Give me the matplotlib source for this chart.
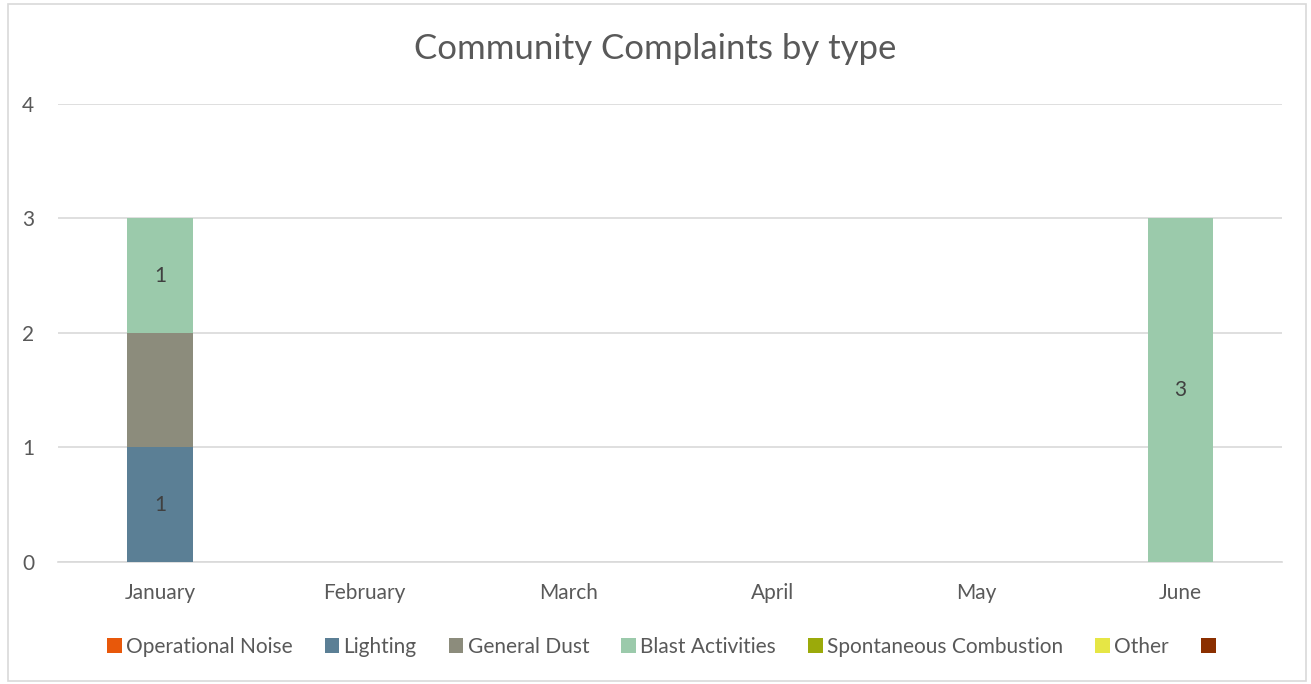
import matplotlib.pyplot as plt
import numpy as np
from matplotlib.patches import Patch, Rectangle

plt.rcParams['font.family'] = ['Lato', 'DejaVu Sans']

months = ['January', 'February', 'March', 'April', 'May', 'June']
series = ['Operational Noise', 'Lighting', 'General Dust', 'Blast Activities',
          'Spontaneous Combustion', 'Other', '']
operational_noise = [0, 0, 0, 0, 0, 0]
lighting = [1, 0, 0, 0, 0, 0]
general_dust = [1, 0, 0, 0, 0, 0]
blast = [1, 0, 0, 0, 0, 3]
spontaneous = [0, 0, 0, 0, 0, 0]
other = [0, 0, 0, 0, 0, 0]
unnamed = [0, 0, 0, 0, 0, 0]
values = [operational_noise, lighting, general_dust, blast, spontaneous, other, unnamed]
colors = ['#E8580A', '#5B7F95', '#8C8C7C', '#9BCAAB', '#9BAA0A', '#E6E645', '#8B2F00']
# which series show data labels in the original
labelled = ['Lighting', 'Blast Activities']

fig = plt.figure(figsize=(13.11, 6.84), dpi=100)
fig.patches.append(Rectangle((0.006, 0.004), 0.99, 0.99, transform=fig.transFigure,
                             fill=False, edgecolor='#D9D9D9', linewidth=1.2))
ax = fig.add_axes([0.0442, 0.1784, 0.934, 0.6696])

x = np.arange(len(months))
bottom = np.zeros(len(months))
for name, vals, c in zip(series, values, colors):
    vals = np.array(vals, dtype=float)
    bars = ax.bar(x, vals, 0.32, bottom=bottom, color=c, zorder=3)
    if name in labelled:
        for b, v in zip(bars, vals):
            if v > 0:
                ax.text(b.get_x() + b.get_width() / 2, b.get_y() + v / 2, f'{int(v)}',
                        ha='center', va='center', fontsize=15, color='#404040', zorder=4)
    bottom += vals

ax.set_xlim(-0.5, 5.5)
ax.set_ylim(0, 4)
ax.set_yticks(range(5))
ax.set_xticks(x)
ax.set_xticklabels(months)
ax.yaxis.grid(True, color='#D9D9D9', linewidth=1.2, zorder=0)
for s in ['top', 'right', 'left']:
    ax.spines[s].set_visible(False)
ax.spines['bottom'].set_color('#D9D9D9')
ax.spines['bottom'].set_linewidth(1.2)
ax.tick_params(length=0, labelsize=15, labelcolor='#595959')
ax.tick_params(axis='y', pad=17)
ax.tick_params(axis='x', pad=15)

fig.text(0.5, 0.928, 'Community Complaints by type', ha='center', va='center',
         fontsize=25, color='#595959')

handles = [Patch(facecolor=c, label=n) for n, c in zip(series, colors)]
fig.legend(handles=handles, loc='center', bbox_to_anchor=(0.506, 0.054), ncol=7,
           frameon=False, fontsize=15, handlelength=0.7, handleheight=0.7,
           handletextpad=0.2, columnspacing=1.55, labelcolor='#595959')

fig.savefig('out.png', dpi=100)
